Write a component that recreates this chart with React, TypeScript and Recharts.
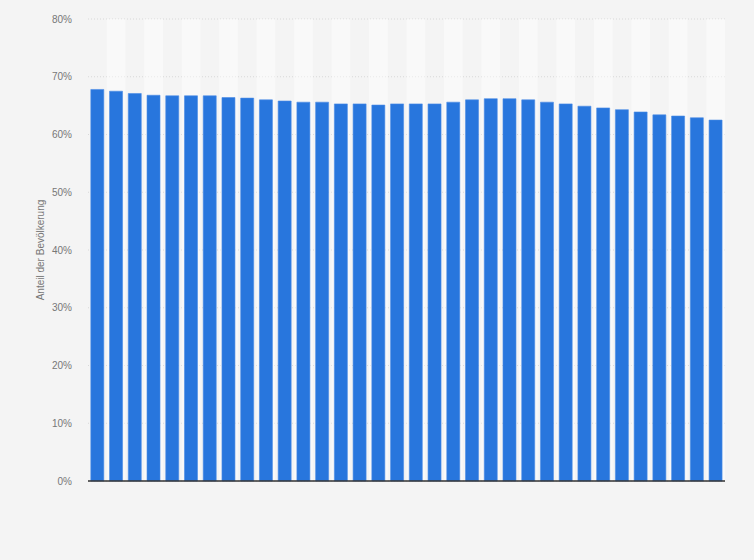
import React from 'react';
import { BarChart, Bar, XAxis, YAxis, CartesianGrid, ReferenceArea, ReferenceLine } from 'recharts';

// 34 Jahre, keine Beschriftung auf der x-Achse
const years = Array.from({ length: 34 }, (_, i) => String(1990 + i));

const shares = [
  67.8, 67.5, 67.1, 66.8, 66.7, 66.7, 66.7, 66.4, 66.3, 66.0,
  65.8, 65.6, 65.6, 65.3, 65.3, 65.1, 65.3, 65.3, 65.3, 65.6,
  66.0, 66.2, 66.2, 66.0, 65.6, 65.3, 64.9, 64.6, 64.3, 63.9,
  63.4, 63.2, 62.9, 62.5,
];

const yTicks = [0, 10, 20, 30, 40, 50, 60, 70, 80];

const data = years.map((year, i) => ({ year, value: shares[i] }));

const tickStyle = { fill: '#777', fontSize: 10, fontFamily: 'Liberation Sans, Arial, sans-serif' };

export default function App() {
  return (
    <div style={{ position: 'absolute', top: 0, left: 0, width: 754, height: 560, background: '#f4f4f4' }}>
      <BarChart
        width={754}
        height={560}
        data={data}
        margin={{ top: 19, right: 29, left: 28, bottom: 79 }}
        barCategoryGap="15%"
      >
        {years.map((y, i) =>
          i % 2 === 1 ? (
            <ReferenceArea key={y} x1={y} x2={y} y1={0} y2={80} fill="#ffffff" fillOpacity={0.45} stroke="none" />
          ) : null
        )}
        <CartesianGrid vertical={false} stroke="#d8d8d8" strokeDasharray="1 2" />
        <XAxis dataKey="year" height={0} tick={false} tickLine={false} axisLine={false} />
        <YAxis
          width={60}
          domain={[0, 80]}
          ticks={yTicks}
          tickFormatter={(v) => `${v}%`}
          tick={tickStyle}
          tickLine={false}
          axisLine={false}
          tickMargin={10}
          label={{
            value: 'Anteil der Bevölkerung',
            angle: -90,
            position: 'insideLeft',
            offset: 12,
            style: { textAnchor: 'middle', ...tickStyle },
          }}
        />
        <Bar dataKey="value" fill="#2876dd" stroke="#4a8ce6" strokeWidth={0.6} isAnimationActive={false} />
        <ReferenceLine y={0} stroke="#333" strokeWidth={1.5} />
      </BarChart>
    </div>
  );
}
